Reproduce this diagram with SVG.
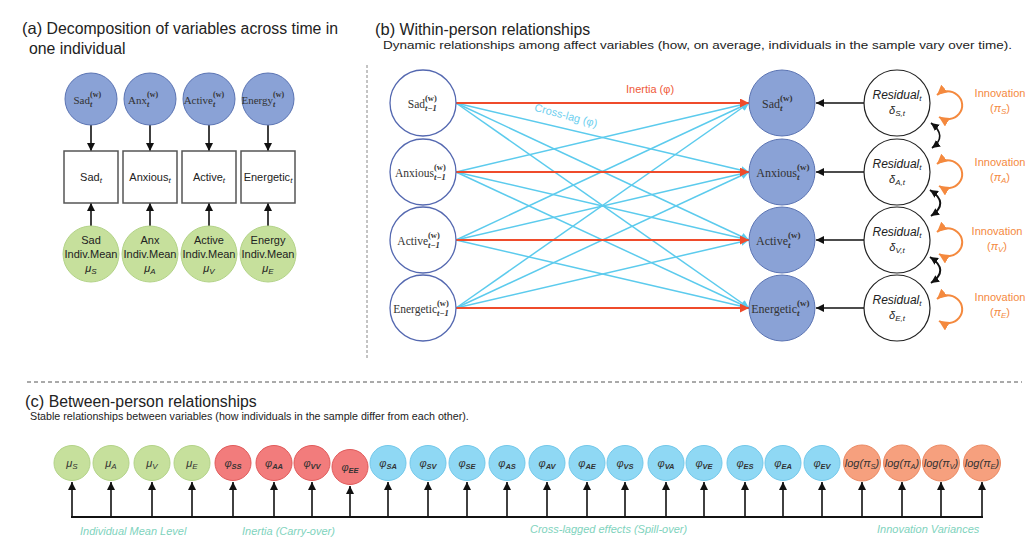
<svg xmlns="http://www.w3.org/2000/svg" width="1028" height="547" viewBox="0 0 1028 547">
<style>
.t{font-family:"Liberation Sans",Arial,sans-serif;fill:#222}
.s{font-family:"Liberation Serif","Times New Roman",serif;fill:#333}
.it{font-style:italic}
.bl{fill:#8aa2d6;stroke:#5b74b3;stroke-width:1}
.wb{fill:#fff;stroke:#5468b0;stroke-width:1.3}
.wk{fill:#fff;stroke:#222;stroke-width:1.2}
.box{fill:#fff;stroke:#555;stroke-width:1.5}
.gr{fill:#c6e09c;stroke:#b3d388;stroke-width:1}
.rd{fill:#f27c7c;stroke:#e05a5a;stroke-width:1}
.cy{fill:#8fd8f4;stroke:#72c8ea;stroke-width:1}
.or{fill:#f6a07e;stroke:#eb8a64;stroke-width:1}
.k{stroke:#111;stroke-width:1.6;fill:none}
.kb{stroke:#111;stroke-width:2;fill:none}
.red{stroke:#ef4b2b;stroke-width:1.8;fill:none}
.cl{stroke:#5ccbed;stroke-width:1.5;fill:none}
.ol{stroke:#f4893e;stroke-width:2;fill:none}
.lab{font-family:"Liberation Sans",Arial,sans-serif;font-style:italic;font-size:11px;fill:#80d3bd}
.cn{font-family:"Liberation Sans",Arial,sans-serif;font-style:italic;font-size:11px;fill:#333;text-anchor:middle}
</style>
<defs>
<marker id="ak" viewBox="0 0 10 10" refX="10" refY="5" markerWidth="8" markerHeight="8" markerUnits="userSpaceOnUse" orient="auto-start-reverse"><path d="M0,0 L10,5 L0,10 z" fill="#111"/></marker>
<marker id="ar" viewBox="0 0 10 10" refX="10" refY="5" markerWidth="9" markerHeight="9" markerUnits="userSpaceOnUse" orient="auto"><path d="M0,0 L10,5 L0,10 z" fill="#ef4b2b"/></marker>
<marker id="ac" viewBox="0 0 10 10" refX="10" refY="5" markerWidth="8" markerHeight="8" markerUnits="userSpaceOnUse" orient="auto"><path d="M0,0 L10,5 L0,10 z" fill="#5ccbed"/></marker>
<marker id="ao" viewBox="0 0 10 10" refX="10" refY="5" markerWidth="10" markerHeight="10" markerUnits="userSpaceOnUse" orient="auto-start-reverse"><path d="M0,0 L10,5 L0,10 z" fill="#f4893e"/></marker>
</defs>

<!-- dashed separators -->
<line x1="367" y1="65" x2="367" y2="360" stroke="#888" stroke-width="1" stroke-dasharray="3,2"/>
<line x1="27" y1="382" x2="1022" y2="382" stroke="#555" stroke-width="1" stroke-dasharray="4,3"/>

<!-- Panel (a) -->
<text class="t" x="22" y="34" font-size="15.8"><tspan font-size="16.5">(a)</tspan> Decomposition of variables across time in</text>
<text class="t" x="29" y="54" font-size="15.8">one individual</text>

<g id="connectors-a">
<line class="k" x1="91" y1="125" x2="91" y2="151" marker-end="url(#ak)"/>
<line class="k" x1="150" y1="125" x2="150" y2="151" marker-end="url(#ak)"/>
<line class="k" x1="209" y1="125" x2="209" y2="151" marker-end="url(#ak)"/>
<line class="k" x1="268" y1="125" x2="268" y2="151" marker-end="url(#ak)"/>
<line class="k" x1="91" y1="226" x2="91" y2="203" marker-end="url(#ak)"/>
<line class="k" x1="150" y1="226" x2="150" y2="203" marker-end="url(#ak)"/>
<line class="k" x1="209" y1="226" x2="209" y2="203" marker-end="url(#ak)"/>
<line class="k" x1="268" y1="226" x2="268" y2="203" marker-end="url(#ak)"/>
</g>

<g id="a-sadw"><circle class="bl" cx="91" cy="99" r="26"/>
<text class="s" x="90" y="104" font-size="11" text-anchor="end">Sad</text>
<text class="s" x="90" y="97" font-size="8" font-weight="bold">(w)</text>
<text class="s it" x="90" y="107" font-size="8" font-weight="bold">t</text></g>
<g id="a-anxw"><circle class="bl" cx="150" cy="99" r="26"/>
<text class="s" x="147" y="104" font-size="11" text-anchor="end">Anx</text>
<text class="s" x="147" y="97" font-size="8" font-weight="bold">(w)</text>
<text class="s it" x="147" y="107" font-size="8" font-weight="bold">t</text></g>
<g id="a-activew"><circle class="bl" cx="209" cy="99" r="26"/>
<text class="s" x="213" y="104" font-size="11" text-anchor="end">Active</text>
<text class="s" x="213" y="97" font-size="8" font-weight="bold">(w)</text>
<text class="s it" x="213" y="107" font-size="8" font-weight="bold">t</text></g>
<g id="a-energyw"><circle class="bl" cx="268" cy="99" r="26"/>
<text class="s" x="273" y="104" font-size="11" text-anchor="end">Energy</text>
<text class="s" x="273" y="97" font-size="8" font-weight="bold">(w)</text>
<text class="s it" x="273" y="107" font-size="8" font-weight="bold">t</text></g>

<g id="a-sadbox"><rect class="box" x="64" y="151" width="54" height="52"/>
<text class="t" x="91" y="181" font-size="11" text-anchor="middle">Sad<tspan class="it" font-size="8" dy="2">t</tspan></text></g>
<g id="a-anxbox"><rect class="box" x="123" y="151" width="54" height="52"/>
<text class="t" x="150" y="181" font-size="11" text-anchor="middle">Anxious<tspan class="it" font-size="8" dy="2">t</tspan></text></g>
<g id="a-activebox"><rect class="box" x="182" y="151" width="54" height="52"/>
<text class="t" x="209" y="181" font-size="11" text-anchor="middle">Active<tspan class="it" font-size="8" dy="2">t</tspan></text></g>
<g id="a-energeticbox"><rect class="box" x="241" y="151" width="54" height="52"/>
<text class="t" x="268" y="181" font-size="11" text-anchor="middle">Energetic<tspan class="it" font-size="8" dy="2">t</tspan></text></g>

<g id="a-sadmean"><circle class="gr" cx="91" cy="254" r="28"/>
<text class="t" font-size="11" text-anchor="middle"><tspan x="91" y="244">Sad</tspan><tspan x="91" y="258">Indiv.Mean</tspan><tspan x="91" y="272" class="it">μ<tspan font-size="8" dy="2">S</tspan></tspan></text></g>
<g id="a-anxmean"><circle class="gr" cx="150" cy="254" r="28"/>
<text class="t" font-size="11" text-anchor="middle"><tspan x="150" y="244">Anx</tspan><tspan x="150" y="258">Indiv.Mean</tspan><tspan x="150" y="272" class="it">μ<tspan font-size="8" dy="2">A</tspan></tspan></text></g>
<g id="a-activemean"><circle class="gr" cx="209" cy="254" r="28"/>
<text class="t" font-size="11" text-anchor="middle"><tspan x="209" y="244">Active</tspan><tspan x="209" y="258">Indiv.Mean</tspan><tspan x="209" y="272" class="it">μ<tspan font-size="8" dy="2">V</tspan></tspan></text></g>
<g id="a-energymean"><circle class="gr" cx="268" cy="254" r="28"/>
<text class="t" font-size="11" text-anchor="middle"><tspan x="268" y="244">Energy</tspan><tspan x="268" y="258">Indiv.Mean</tspan><tspan x="268" y="272" class="it">μ<tspan font-size="8" dy="2">E</tspan></tspan></text></g>

<!-- Panel (b) -->
<text class="t" x="375" y="35" font-size="15.8"><tspan font-size="16.5">(b)</tspan> Within-person relationships</text>
<text class="t" x="383" y="49" font-size="10.8" textLength="629" lengthAdjust="spacingAndGlyphs">Dynamic relationships among affect variables (how, on average, individuals in the sample vary over time).</text>

<g id="connectors-b">
<line class="cl" x1="456" y1="103" x2="749" y2="172" marker-end="url(#ac)"/>
<line class="cl" x1="456" y1="103" x2="749" y2="240" marker-end="url(#ac)"/>
<line class="cl" x1="456" y1="103" x2="749" y2="308" marker-end="url(#ac)"/>
<line class="cl" x1="456" y1="172" x2="749" y2="103" marker-end="url(#ac)"/>
<line class="cl" x1="456" y1="172" x2="749" y2="240" marker-end="url(#ac)"/>
<line class="cl" x1="456" y1="172" x2="749" y2="308" marker-end="url(#ac)"/>
<line class="cl" x1="456" y1="240" x2="749" y2="103" marker-end="url(#ac)"/>
<line class="cl" x1="456" y1="240" x2="749" y2="172" marker-end="url(#ac)"/>
<line class="cl" x1="456" y1="240" x2="749" y2="308" marker-end="url(#ac)"/>
<line class="cl" x1="456" y1="308" x2="749" y2="103" marker-end="url(#ac)"/>
<line class="cl" x1="456" y1="308" x2="749" y2="172" marker-end="url(#ac)"/>
<line class="cl" x1="456" y1="308" x2="749" y2="240" marker-end="url(#ac)"/>
<line class="red" x1="456" y1="103" x2="749" y2="103" marker-end="url(#ar)"/>
<line class="red" x1="456" y1="172" x2="749" y2="172" marker-end="url(#ar)"/>
<line class="red" x1="456" y1="240" x2="749" y2="240" marker-end="url(#ar)"/>
<line class="red" x1="456" y1="308" x2="749" y2="308" marker-end="url(#ar)"/>
<line class="k" x1="864" y1="103" x2="816" y2="103" marker-end="url(#ak)"/>
<line class="k" x1="864" y1="172" x2="816" y2="172" marker-end="url(#ak)"/>
<line class="k" x1="864" y1="240" x2="816" y2="240" marker-end="url(#ak)"/>
<line class="k" x1="864" y1="308" x2="816" y2="308" marker-end="url(#ak)"/>
<path class="k" d="M931 123 Q948 136 932 148" marker-start="url(#ak)" marker-end="url(#ak)"/>
<path class="kb" d="M930 190 Q950 203 931 216" marker-start="url(#ak)" marker-end="url(#ak)"/>
<path class="kb" d="M930 257 Q950 270 931 283" marker-start="url(#ak)" marker-end="url(#ak)"/>
<path class="ol" d="M937 95 A15 14 0 1 1 939 117" marker-start="url(#ao)" marker-end="url(#ao)"/>
<path class="ol" d="M937 164 A15 14 0 1 1 939 186" marker-start="url(#ao)" marker-end="url(#ao)"/>
<path class="ol" d="M937 232 A15 14 0 1 1 939 254" marker-start="url(#ao)" marker-end="url(#ao)"/>
<path class="ol" d="M937 299 A15 14 0 1 1 939 321" marker-start="url(#ao)" marker-end="url(#ao)"/>
</g>
<text class="t" x="650" y="93" font-size="11" text-anchor="middle" style="fill:#ef5a3a">Inertia (φ)</text>
<text class="t" x="565" y="119" font-size="11" text-anchor="middle" style="fill:#6fd0ef" transform="rotate(15 565 119)">Cross-lag (φ)</text>

<g id="b-sad-lag"><circle class="wb" cx="423" cy="103" r="33"/>
<text class="s" x="425" y="108" font-size="11.5" text-anchor="end">Sad</text>
<text class="s" x="425" y="101" font-size="8.5" font-weight="bold">(w)</text>
<text class="s it" x="425" y="111" font-size="8.5" font-weight="bold">t−1</text></g>
<g id="b-anx-lag"><circle class="wb" cx="423" cy="172" r="33"/>
<text class="s" x="434" y="177" font-size="11.5" text-anchor="end">Anxious</text>
<text class="s" x="434" y="170" font-size="8.5" font-weight="bold">(w)</text>
<text class="s it" x="434" y="180" font-size="8.5" font-weight="bold">t−1</text></g>
<g id="b-active-lag"><circle class="wb" cx="423" cy="240" r="33"/>
<text class="s" x="428" y="245" font-size="11.5" text-anchor="end">Active</text>
<text class="s" x="428" y="238" font-size="8.5" font-weight="bold">(w)</text>
<text class="s it" x="428" y="248" font-size="8.5" font-weight="bold">t−1</text></g>
<g id="b-energetic-lag"><circle class="wb" cx="423" cy="308" r="33"/>
<text class="s" x="437" y="313" font-size="11.5" text-anchor="end">Energetic</text>
<text class="s" x="437" y="306" font-size="8.5" font-weight="bold">(w)</text>
<text class="s it" x="437" y="316" font-size="8.5" font-weight="bold">t−1</text></g>

<g id="b-sad"><circle class="bl" cx="782" cy="103" r="33"/>
<text class="s" x="780" y="108" font-size="12" text-anchor="end">Sad</text>
<text class="s" x="780" y="101" font-size="9" font-weight="bold">(w)</text>
<text class="s it" x="780" y="111" font-size="9" font-weight="bold">t</text></g>
<g id="b-anx"><circle class="bl" cx="782" cy="172" r="33"/>
<text class="s" x="797" y="177" font-size="12" text-anchor="end">Anxious</text>
<text class="s" x="797" y="170" font-size="9" font-weight="bold">(w)</text>
<text class="s it" x="797" y="180" font-size="9" font-weight="bold">t</text></g>
<g id="b-active"><circle class="bl" cx="782" cy="240" r="33"/>
<text class="s" x="788" y="245" font-size="12" text-anchor="end">Active</text>
<text class="s" x="788" y="238" font-size="9" font-weight="bold">(w)</text>
<text class="s it" x="788" y="248" font-size="9" font-weight="bold">t</text></g>
<g id="b-energetic"><circle class="bl" cx="782" cy="308" r="33"/>
<text class="s" x="797" y="313" font-size="12" text-anchor="end">Energetic</text>
<text class="s" x="797" y="306" font-size="9" font-weight="bold">(w)</text>
<text class="s it" x="797" y="316" font-size="9" font-weight="bold">t</text></g>

<g id="b-res-s"><circle class="wk" cx="897" cy="103" r="33"/>
<text class="t it" x="897" y="99" font-size="12" text-anchor="middle">Residual<tspan font-size="8" dy="2">t</tspan></text>
<text class="t it" x="897" y="114" font-size="11" text-anchor="middle">δ<tspan font-size="8" dy="2">S,t</tspan></text></g>
<g id="b-res-a"><circle class="wk" cx="897" cy="172" r="33"/>
<text class="t it" x="897" y="168" font-size="12" text-anchor="middle">Residual<tspan font-size="8" dy="2">t</tspan></text>
<text class="t it" x="897" y="183" font-size="11" text-anchor="middle">δ<tspan font-size="8" dy="2">A,t</tspan></text></g>
<g id="b-res-v"><circle class="wk" cx="897" cy="240" r="33"/>
<text class="t it" x="897" y="236" font-size="12" text-anchor="middle">Residual<tspan font-size="8" dy="2">t</tspan></text>
<text class="t it" x="897" y="251" font-size="11" text-anchor="middle">δ<tspan font-size="8" dy="2">V,t</tspan></text></g>
<g id="b-res-e"><circle class="wk" cx="897" cy="308" r="33"/>
<text class="t it" x="897" y="304" font-size="12" text-anchor="middle">Residual<tspan font-size="8" dy="2">t</tspan></text>
<text class="t it" x="897" y="319" font-size="11" text-anchor="middle">δ<tspan font-size="8" dy="2">E,t</tspan></text></g>

<g id="b-innovation-labels" font-family="Liberation Sans, Arial, sans-serif" font-size="11" fill="#f4893e" text-anchor="middle">
<text x="1000" y="97">Innovation</text><text x="1000" y="112">(<tspan font-style="italic">π<tspan font-size="8" dy="2">S</tspan></tspan><tspan dy="-2">)</tspan></text>
<text x="1000" y="166">Innovation</text><text x="1000" y="181">(<tspan font-style="italic">π<tspan font-size="8" dy="2">A</tspan></tspan><tspan dy="-2">)</tspan></text>
<text x="997" y="235">Innovation</text><text x="997" y="250">(<tspan font-style="italic">π<tspan font-size="8" dy="2">V</tspan></tspan><tspan dy="-2">)</tspan></text>
<text x="1000" y="301">Innovation</text><text x="1000" y="316">(<tspan font-style="italic">π<tspan font-size="8" dy="2">E</tspan></tspan><tspan dy="-2">)</tspan></text>
</g>

<!-- Panel (c) -->
<text class="t" x="25" y="407" font-size="15.8"><tspan font-size="16.5">(c)</tspan> Between-person relationships</text>
<text class="t" x="30" y="420" font-size="10.7">Stable relationships between variables (how individuals in the sample differ from each other).</text>

<g id="connectors-c">
<line class="kb" x1="71" y1="517" x2="983" y2="517" stroke-width="2.5"/>
<g class="k" marker-end="url(#ak)">
<line x1="72" y1="517" x2="72" y2="482"/><line x1="111" y1="517" x2="111" y2="482"/><line x1="152" y1="517" x2="152" y2="482"/><line x1="192" y1="517" x2="192" y2="482"/>
<line x1="233" y1="517" x2="233" y2="482"/><line x1="274" y1="517" x2="274" y2="482"/><line x1="312" y1="517" x2="312" y2="482"/><line x1="350" y1="517" x2="350" y2="486"/>
<line x1="388" y1="517" x2="388" y2="482"/><line x1="428" y1="517" x2="428" y2="482"/><line x1="467" y1="517" x2="467" y2="482"/><line x1="507" y1="517" x2="507" y2="482"/>
<line x1="547" y1="517" x2="547" y2="482"/><line x1="587" y1="517" x2="587" y2="482"/><line x1="625" y1="517" x2="625" y2="482"/><line x1="666" y1="517" x2="666" y2="482"/>
<line x1="704" y1="517" x2="704" y2="482"/><line x1="745" y1="517" x2="745" y2="482"/><line x1="783" y1="517" x2="783" y2="482"/><line x1="822" y1="517" x2="822" y2="482"/>
<line x1="862" y1="517" x2="862" y2="482"/><line x1="902" y1="517" x2="902" y2="482"/><line x1="941" y1="517" x2="941" y2="482"/><line x1="982" y1="517" x2="982" y2="482"/>
</g>
</g>

<g id="c-mu-s"><ellipse class="gr" cx="72" cy="463" rx="18" ry="17.5"/><text class="cn" x="72" y="467">μ<tspan font-size="8" dy="2">S</tspan></text></g>
<g id="c-mu-a"><ellipse class="gr" cx="111" cy="463" rx="18" ry="17.5"/><text class="cn" x="111" y="467">μ<tspan font-size="8" dy="2">A</tspan></text></g>
<g id="c-mu-v"><ellipse class="gr" cx="152" cy="463" rx="18" ry="17.5"/><text class="cn" x="152" y="467">μ<tspan font-size="8" dy="2">V</tspan></text></g>
<g id="c-mu-e"><ellipse class="gr" cx="192" cy="463" rx="18" ry="17.5"/><text class="cn" x="192" y="467">μ<tspan font-size="8" dy="2">E</tspan></text></g>
<g id="c-phi-ss"><ellipse class="rd" cx="233" cy="463" rx="18" ry="17.5"/><text class="cn" x="233" y="467">φ<tspan font-size="7.5" dy="2" font-weight="bold">SS</tspan></text></g>
<g id="c-phi-aa"><ellipse class="rd" cx="274" cy="463" rx="18" ry="17.5"/><text class="cn" x="274" y="467">φ<tspan font-size="7.5" dy="2" font-weight="bold">AA</tspan></text></g>
<g id="c-phi-vv"><ellipse class="rd" cx="312" cy="463" rx="18" ry="17.5"/><text class="cn" x="312" y="467">φ<tspan font-size="7.5" dy="2" font-weight="bold">VV</tspan></text></g>
<g id="c-phi-ee"><ellipse class="rd" cx="350" cy="467" rx="18" ry="17.5"/><text class="cn" x="350" y="471">φ<tspan font-size="7.5" dy="2" font-weight="bold">EE</tspan></text></g>
<g id="c-phi-sa"><ellipse class="cy" cx="388" cy="463" rx="18" ry="17.5"/><text class="cn" x="388" y="467">φ<tspan font-size="7.5" dy="2" font-weight="bold">SA</tspan></text></g>
<g id="c-phi-sv"><ellipse class="cy" cx="428" cy="463" rx="18" ry="17.5"/><text class="cn" x="428" y="467">φ<tspan font-size="7.5" dy="2" font-weight="bold">SV</tspan></text></g>
<g id="c-phi-se"><ellipse class="cy" cx="467" cy="463" rx="18" ry="17.5"/><text class="cn" x="467" y="467">φ<tspan font-size="7.5" dy="2" font-weight="bold">SE</tspan></text></g>
<g id="c-phi-as"><ellipse class="cy" cx="507" cy="463" rx="18" ry="17.5"/><text class="cn" x="507" y="467">φ<tspan font-size="7.5" dy="2" font-weight="bold">AS</tspan></text></g>
<g id="c-phi-av"><ellipse class="cy" cx="547" cy="463" rx="18" ry="17.5"/><text class="cn" x="547" y="467">φ<tspan font-size="7.5" dy="2" font-weight="bold">AV</tspan></text></g>
<g id="c-phi-ae"><ellipse class="cy" cx="587" cy="463" rx="18" ry="17.5"/><text class="cn" x="587" y="467">φ<tspan font-size="7.5" dy="2" font-weight="bold">AE</tspan></text></g>
<g id="c-phi-vs"><ellipse class="cy" cx="625" cy="463" rx="18" ry="17.5"/><text class="cn" x="625" y="467">φ<tspan font-size="7.5" dy="2" font-weight="bold">VS</tspan></text></g>
<g id="c-phi-va"><ellipse class="cy" cx="666" cy="463" rx="18" ry="17.5"/><text class="cn" x="666" y="467">φ<tspan font-size="7.5" dy="2" font-weight="bold">VA</tspan></text></g>
<g id="c-phi-ve"><ellipse class="cy" cx="704" cy="463" rx="18" ry="17.5"/><text class="cn" x="704" y="467">φ<tspan font-size="7.5" dy="2" font-weight="bold">VE</tspan></text></g>
<g id="c-phi-es"><ellipse class="cy" cx="745" cy="463" rx="18" ry="17.5"/><text class="cn" x="745" y="467">φ<tspan font-size="7.5" dy="2" font-weight="bold">ES</tspan></text></g>
<g id="c-phi-ea"><ellipse class="cy" cx="783" cy="463" rx="18" ry="17.5"/><text class="cn" x="783" y="467">φ<tspan font-size="7.5" dy="2" font-weight="bold">EA</tspan></text></g>
<g id="c-phi-ev"><ellipse class="cy" cx="822" cy="463" rx="18" ry="17.5"/><text class="cn" x="822" y="467">φ<tspan font-size="7.5" dy="2" font-weight="bold">EV</tspan></text></g>
<g id="c-log-s"><ellipse class="or" cx="862" cy="463" rx="18.5" ry="18"/><text class="cn" x="862" y="467">log(π<tspan font-size="7.5" dy="2">S</tspan><tspan dy="-2">)</tspan></text></g>
<g id="c-log-a"><ellipse class="or" cx="902" cy="463" rx="18.5" ry="18"/><text class="cn" x="902" y="467">log(π<tspan font-size="7.5" dy="2">A</tspan><tspan dy="-2">)</tspan></text></g>
<g id="c-log-v"><ellipse class="or" cx="941" cy="463" rx="18.5" ry="18"/><text class="cn" x="941" y="467">log(π<tspan font-size="7.5" dy="2">V</tspan><tspan dy="-2">)</tspan></text></g>
<g id="c-log-e"><ellipse class="or" cx="982" cy="463" rx="18.5" ry="18"/><text class="cn" x="982" y="467">log(π<tspan font-size="7.5" dy="2">E</tspan><tspan dy="-2">)</tspan></text></g>

<text class="lab" x="80" y="535">Individual Mean Level</text>
<text class="lab" x="242" y="535">Inertia (Carry-over)</text>
<text class="lab" x="530" y="533">Cross-lagged effects (Spill-over)</text>
<text class="lab" x="877" y="533">Innovation Variances</text>
</svg>
